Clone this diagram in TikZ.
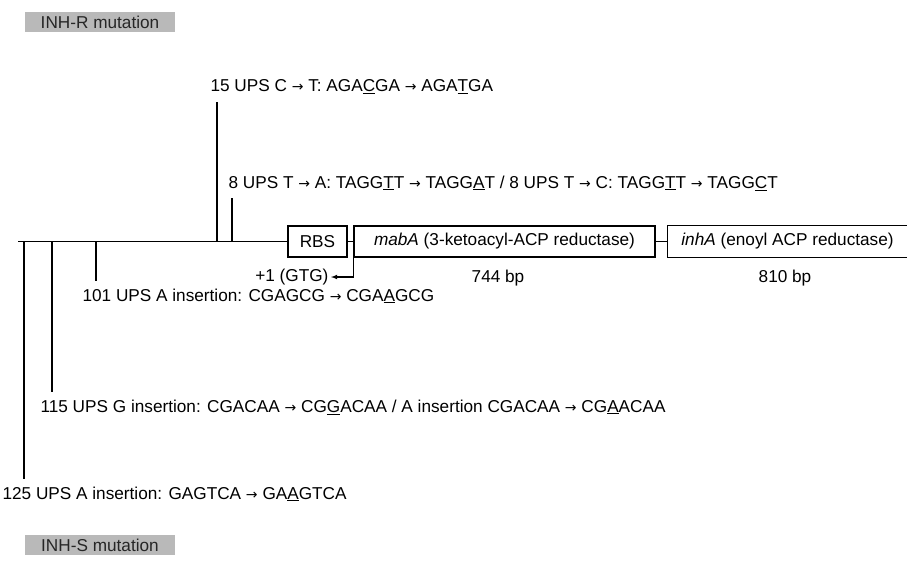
\documentclass[tikz,border=0pt]{standalone}
\usepackage{fontspec}
\setmainfont{Liberation Sans}
\newfontfamily\arrowfont{DejaVu Sans}
\newcommand{\mutbase}[1]{\underline{#1}}
\newcommand{\mutarrow}{\ {\arrowfont\fontsize{14}{14}\selectfont →}\ }
\begin{document}
\begin{tikzpicture}[x=1pt, y=-1pt, font=\fontsize{17.2}{19}\selectfont, line width=1.1pt]
\useasboundingbox (0,0) rectangle (907,562);
\tikzset{
  gene/.style={draw, rectangle, minimum height=31pt, inner sep=0pt},
  site/.style={anchor=west, inner sep=2pt},
  tag/.style={fill=gray!55, minimum width=150pt, minimum height=20pt, inner sep=0pt, text=black!85},
  stem/.style={shorten >=5pt}
}
% panel tags
\node[tag] (inhr) at (100,22) {INH-R mutation};
\node[tag] (inhs) at (100,545) {INH-S mutation};

% operon
\node[gene, minimum width=59pt] (rbs) at (317.5,241.5) {RBS};
\node[gene, minimum width=301pt] (mabA) at (504.5,241.5) {\textit{mabA} (3-ketoacyl-ACP reductase)};
\node[minimum width=239pt, minimum height=31pt, inner sep=0pt] (inhA) at (787.5,241.5) {\textit{inhA} (enoyl ACP reductase)};
\draw (inhA.north east) -- (inhA.north west) -- (inhA.south west) -- (inhA.south east);
\node (len1) at (498,278) {744 bp};
\node (len2) at (785,278) {810 bp};

\coordinate (start) at (18,241.5);
\draw (start) -- (rbs.west);
\draw (rbs.east) -- (mabA.west);
\draw (mabA.east) -- (inhA.west);
\node[anchor=east, inner sep=2pt] (gtg) at (331,277) {+1 (GTG)};
\draw[-latex] (mabA.south west) |- (gtg.east);

% mutation sites
\node[site] (m15) at (208,87) {15 UPS C\mutarrow T: AGA\mutbase{C}GA\mutarrow AGA\mutbase{T}GA};
\node[site] (m8) at (226,183) {8 UPS T\mutarrow A: TAGG\mutbase{T}T\mutarrow TAGG\mutbase{A}T / 8 UPS T\mutarrow C: TAGG\mutbase{T}T\mutarrow TAGG\mutbase{C}T};
\node[site] (m101) at (80,296) {101 UPS A insertion: CGAGCG\mutarrow CGA\mutbase{A}GCG};
\node[site] (m115) at (38,407) {115 UPS G insertion: CGACAA\mutarrow CG\mutbase{G}ACAA / A insertion CGACAA\mutarrow CG\mutbase{A}ACAA};
\node[site] (m125) at (0,494) {125 UPS A insertion: GAGTCA\mutarrow GA\mutbase{A}GTCA};

\coordinate (p15) at (217,241.5);
\coordinate (p8) at (232,241.5);
\coordinate (p101) at (96,241.5);
\coordinate (p115) at (52,241.5);
\coordinate (p125) at (24,241.5);
\draw[stem] (p15) -- (p15 |- m15.south);
\draw[stem] (p8) -- (p8 |- m8.south);
\draw[stem] (p101) -- (p101 |- m101.north);
\draw[stem] (p115) -- (p115 |- m115.north);
\draw[stem] (p125) -- (p125 |- m125.north);
\end{tikzpicture}
\end{document}
